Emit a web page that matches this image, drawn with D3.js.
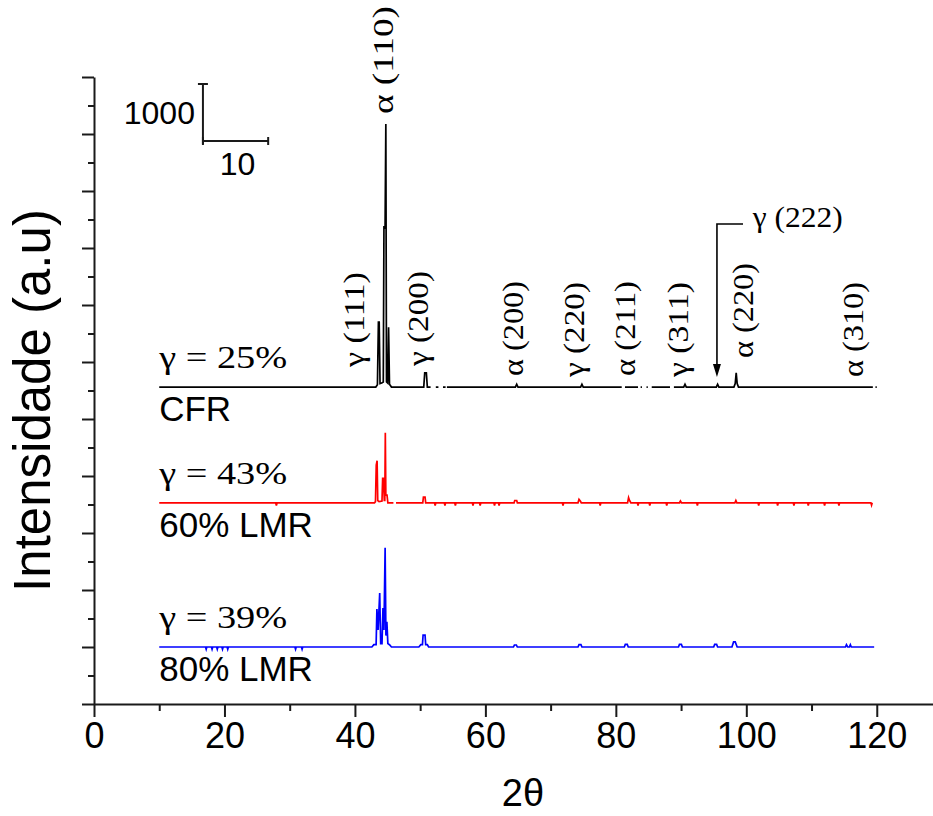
<!DOCTYPE html>
<html><head><meta charset="utf-8">
<script src="https://cdn.jsdelivr.net/npm/d3@7/dist/d3.min.js"></script>
<style>body{margin:0;background:#fff}svg{display:block}</style>
</head><body>
<script>
// ---------- data ----------
const xDomain = [0, 130];
const yDomain = [0, 11000];
const xMajorTicks = [0, 20, 40, 60, 80, 100, 120];
const xMinorTicks = [10, 30, 50, 70, 90, 110];
const yMajorTicks = [0,1000,2000,3000,4000,5000,6000,7000,8000,9000,10000,11000];
const yMinorTicks = [500,1500,2500,3500,4500,5500,6500,7500,8500,9500,10500];

const seriesNames = ["CFR", "60% LMR", "80% LMR"];
const seriesGamma = ["γ = 25%", "γ = 43%", "γ = 39%"];
const seriesColors = ["#000000", "#ff0000", "#0000ff"];
const seriesOffsets = [5560, 3530, 1000];

// [2θ, net intensity] ; null = missing point
const cfrPoints = [[10,0],[43.2,0],[43.45,40],[43.6,1140],[43.72,1140],[43.85,60],[44.1,70],[44.35,90],
 [44.45,2825],[44.62,2780],[44.74,4614],[44.84,90],[45.02,70],[45.16,1050],[45.3,50],[45.6,0],
 [50.55,0],[50.7,250],[50.95,250],[51.1,0],[51.6,0],[51.9,null],[52.4,0],[52.8,0],[53.1,null],[53.5,0],[53.9,0],[54.0,null],
 [54.1,0],[64.6,0],[64.8,50],[65.0,0],[74.6,0],[74.8,50],[75.0,0],[80.9,0],[81.1,null],[81.4,0],[83.4,0],[83.6,null],
 [83.8,0],[84.0,0],[84.3,null],[84.7,0],[84.9,0],[85.2,null],[85.5,0],[88.3,0],[88.5,null],[88.9,0],
 [90.4,0],[90.6,50],[90.8,0],[95.4,0],[95.6,50],[95.8,0],[98.1,0],[98.3,60],[98.45,250],[98.6,60],[98.8,0],
 [119.4,0],[119.6,null],[119.8,0],[120,0]];

const lmr60Points = [[10,0],[27.85,0],[27.96,-50],[28.07,0],
 [43.0,0],[43.15,20],[43.27,660],[43.4,737],[43.5,40],[43.7,20],[44.15,30],[44.25,430],[44.38,430],[44.5,40],[44.58,40],
 [44.66,1230],[44.74,135],[44.92,135],[45.05,0],[45.9,0],[46.0,null],[46.3,0],
 [50.4,0],[50.5,100],[50.75,100],[50.85,0],
 [52.2,0],[52.3,-50],[52.4,0],[53.7,0],[53.8,-50],[53.9,0],[55.3,0],[55.4,-50],[55.5,0],[58.0,0],[58.1,-50],[58.2,0],
 [59.1,0],[59.2,-50],[59.3,0],[61.3,0],[61.4,-50],[61.5,0],[62.0,0],[62.1,-50],[62.2,0],
 [64.4,0],[64.5,40],[64.8,40],[64.9,0],[71.8,0],[71.9,-50],[72.0,0],
 [74.2,0],[74.35,60],[74.55,30],[74.7,0],[77.5,0],[77.6,-50],[77.7,0],
 [81.8,0],[81.95,90],[82.1,40],[82.3,0],[83.3,0],[83.4,-50],[83.5,0],[85.1,0],[85.2,-50],[85.3,0],[87.7,0],[87.8,-50],[87.9,0],
 [89.75,0],[89.9,30],[90.05,0],[92.4,0],[92.5,-50],[92.6,0],[98.25,0],[98.4,40],[98.55,0],
 [101.8,0],[101.9,-50],[102.0,0],[104.7,0],[104.8,-50],[104.9,0],[107.2,0],[107.3,-50],[107.4,0],
 [109.4,0],[109.5,-50],[109.6,0],[111.9,0],[112.0,-50],[112.1,0],[114.1,0],[114.2,-50],[114.3,0],
 [119.1,0],[119.2,-40],[119.3,0]];

const lmr80Points = [[10,0],[17.1,0],[17.2,-40],[17.3,0],[18.0,0],[18.1,-40],[18.2,0],[18.8,0],[18.9,-40],[19.0,0],
 [19.6,0],[19.7,-40],[19.8,0],[20.4,0],[20.5,-40],[20.6,0],[30.8,0],[30.9,-40],[31.0,0],[31.8,0],[31.9,-40],[32.0,0],
 [42.6,0],[42.9,40],[43.25,40],[43.37,667],[43.55,300],[43.8,947],[43.95,60],[44.15,60],[44.3,684],[44.45,300],
 [44.63,1740],[44.75,200],[44.9,444],[45.05,60],[45.3,40],[45.6,0],
 [49.8,0],[50.1,40],[50.35,40],[50.45,210],[50.75,210],[50.85,40],[51.1,40],[51.3,0],
 [64.3,0],[64.45,35],[64.75,35],[64.9,0],[74.2,0],[74.35,40],[74.65,40],[74.8,0],
 [81.3,0],[81.45,45],[81.75,45],[81.9,0],[89.6,0],[89.75,45],[90.05,45],[90.2,0],
 [95.0,0],[95.15,45],[95.45,45],[95.6,0],[97.8,0],[98.05,90],[98.3,90],[98.6,0],
 [115.2,0],[115.35,40],[115.55,0],[115.8,0],[115.95,40],[116.1,0],[119.6,0]];

const seriesPoints = [cfrPoints, lmr60Points, lmr80Points];

// peak annotations: label, 2θ position of text column, intensity at text start
const peakLabels = ["γ (111)", "α (110)", "γ (200)", "α (200)", "γ (220)", "α (211)", "γ (311)", "α (220)", "α (310)"];
const peakLabelTheta = [39.9, 44.3, 49.7, 64.2, 73.6, 81.4, 89.6, 99.5, 116.4];
const peakLabelBase = [5912, 10351, 5930, 5754, 5737, 5754, 5737, 6070, 5737];

const arrowLabel = "γ (222)";
const arrowTheta = [95.5, 99.5];      // arrow shaft, end of elbow
const arrowIntensity = [5737, 8421];  // tip, elbow
const arrowLabelPos = [101, 8368];

const scaleBarOrigin = [16.7, 9877];
const scaleBarSize = [10, 1000];
const scaleBarLabels = ["1000", "10"];

const xTitle = "2θ";
const yTitle = "Intensidade (a.u)";

// ---------- drawing ----------
const W = 933, H = 816;
const SANS = "'Liberation Sans', Arial, sans-serif";
const SERIF = "'Liberation Serif', 'Times New Roman', serif";
const svg = d3.select("body").append("svg").attr("width", W).attr("height", H);
const x = d3.scaleLinear().domain(xDomain).range([94, 942]);
const y = d3.scaleLinear().domain(yDomain).range([704, 77]);
const AX = "#1a1a1a";

// y axis
const gyMinor = svg.append("g").attr("transform", `translate(${x(0)},0)`)
  .call(d3.axisLeft(y).tickValues(yMinorTicks).tickSize(6).tickFormat(""));
gyMinor.select(".domain").remove();
const gy = svg.append("g").attr("transform", `translate(${x(0)},0)`)
  .call(d3.axisLeft(y).tickValues(yMajorTicks).tickSize(12).tickSizeOuter(0).tickFormat(""));

// x axis
const gxMinor = svg.append("g").attr("transform", `translate(0,${y(0)})`)
  .call(d3.axisBottom(x).tickValues(xMinorTicks).tickSize(7).tickFormat(""));
gxMinor.select(".domain").remove();
const gx = svg.append("g").attr("transform", `translate(0,${y(0)})`)
  .call(d3.axisBottom(x).tickValues(xMajorTicks).tickSize(13).tickPadding(5).tickSizeOuter(0).tickFormat(d3.format("d")));
gx.attr("font-size", 36).attr("font-family", SANS);
gx.selectAll("text").attr("fill", "#000");
[gy, gyMinor, gx, gxMinor].forEach(g => {
  g.selectAll("line").attr("stroke", AX).attr("stroke-width", 2);
  g.selectAll(".domain").attr("stroke", AX).attr("stroke-width", 2);
});

// axis titles
svg.append("text").attr("x", 523).attr("y", 806)
  .attr("text-anchor", "middle").attr("font-family", SANS).attr("font-size", 38).text(xTitle);
svg.append("text").attr("transform", `translate(50,${(y(0) + y(11000)) / 2 + 10}) rotate(-90)`)
  .attr("text-anchor", "middle").attr("font-family", SANS).attr("font-size", 51).text(yTitle);

// series
seriesPoints.forEach((pts, i) => {
  const off = seriesOffsets[i];
  const line = d3.line().defined(d => d[1] !== null)
    .x(d => x(d[0])).y(d => y(d[1] + off));
  svg.append("path").datum(pts).attr("d", line)
    .attr("fill", "none").attr("stroke", seriesColors[i]).attr("stroke-width", 1.7)
    .attr("stroke-linejoin", "miter");
  const x0 = x(pts[0][0]);
  svg.append("text").attr("x", x0).attr("y", y(off) - 19)
    .attr("font-family", SERIF).attr("font-size", 31).attr("fill", "#000")
    .attr("textLength", 128).attr("lengthAdjust", "spacingAndGlyphs").text(seriesGamma[i]);
  svg.append("text").attr("x", x0).attr("y", y(off) + 34)
    .attr("font-family", SANS).attr("font-size", 35).attr("fill", "#000").text(seriesNames[i]);
});

// peak labels (rotated)
peakLabels.forEach((t, i) => {
  svg.append("text")
    .attr("transform", `translate(${x(peakLabelTheta[i])},${y(peakLabelBase[i])}) rotate(-90)`)
    .attr("dy", "0.33em").attr("font-family", SERIF).attr("font-size", 30).attr("fill", "#000")
    .attr("textLength", i === 1 ? 108 : 95).attr("lengthAdjust", "spacingAndGlyphs").text(t);
});

// arrow for γ(222)
const ax0 = x(arrowTheta[0]), ax1 = x(arrowTheta[1]);
const ayTip = y(arrowIntensity[0]), ayElbow = y(arrowIntensity[1]);
svg.append("path").attr("d", `M${ax1},${ayElbow}H${ax0}V${ayTip - 10}`)
  .attr("fill", "none").attr("stroke", "#000").attr("stroke-width", 1.6);
svg.append("path").attr("d", `M${ax0 - 4},${ayTip - 13}L${ax0 + 4},${ayTip - 13}L${ax0},${ayTip}Z`).attr("fill", "#000");
svg.append("text").attr("x", x(arrowLabelPos[0])).attr("y", y(arrowLabelPos[1]))
  .attr("font-family", SERIF).attr("font-size", 30).attr("fill", "#000")
  .attr("textLength", 90).attr("lengthAdjust", "spacingAndGlyphs").text(arrowLabel);

// scale bar
const sbx0 = x(scaleBarOrigin[0]), sbx1 = x(scaleBarOrigin[0] + scaleBarSize[0]);
const sby0 = y(scaleBarOrigin[1]), sby1 = y(scaleBarOrigin[1] + scaleBarSize[1]);
const sb = svg.append("g").attr("stroke", AX).attr("stroke-width", 2);
sb.append("line").attr("x1", sbx0).attr("x2", sbx0).attr("y1", sby1).attr("y2", sby0 + 3);
sb.append("line").attr("x1", sbx0 - 5).attr("x2", sbx0 + 5).attr("y1", sby1).attr("y2", sby1);
sb.append("line").attr("x1", sbx0).attr("x2", sbx1).attr("y1", sby0).attr("y2", sby0);
sb.append("line").attr("x1", sbx1).attr("x2", sbx1).attr("y1", sby0 - 4).attr("y2", sby0 + 4);
sb.append("line").attr("x1", sbx0).attr("x2", sbx0).attr("y1", sby0 - 4).attr("y2", sby0 + 4);
svg.append("text").attr("x", sbx0 - 8).attr("y", sby0 - 17).attr("text-anchor", "end")
  .attr("font-family", SANS).attr("font-size", 32).text(scaleBarLabels[0]);
svg.append("text").attr("x", (sbx0 + sbx1) / 2 + 2).attr("y", sby0 + 34).attr("text-anchor", "middle")
  .attr("font-family", SANS).attr("font-size", 32).text(scaleBarLabels[1]);
</script>
</body></html>
